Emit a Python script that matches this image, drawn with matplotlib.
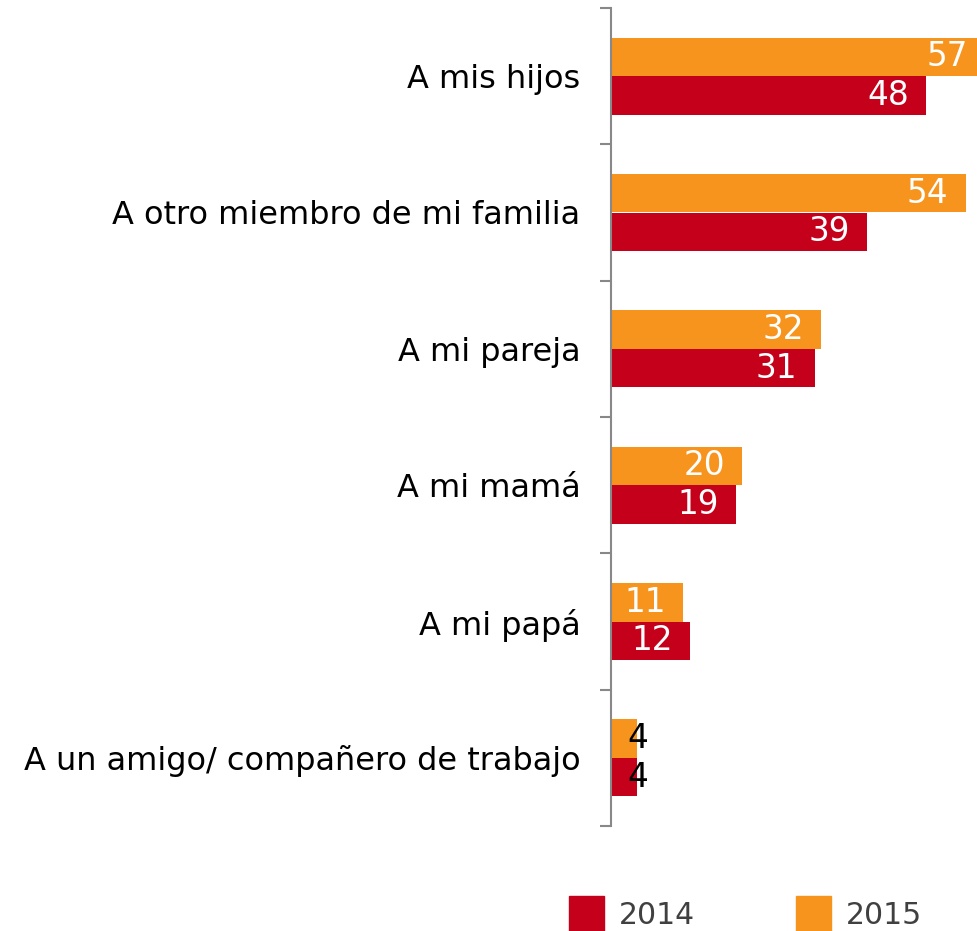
import matplotlib
matplotlib.use("Agg")
import matplotlib.pyplot as plt
from matplotlib.patches import Rectangle
import numpy as np

categories = ["A mis hijos", "A otro miembro de mi familia", "A mi pareja",
              "A mi mamá", "A mi papá", "A un amigo/ compañero de trabajo"]
years = ["2014", "2015"]
values_2014 = [48, 39, 31, 19, 12, 4]
values_2015 = [57, 54, 32, 20, 11, 4]

RED = "#C4001A"
ORANGE = "#F7941D"

plt.rcParams["font.family"] = ["DejaVu Sans"]

fig = plt.figure(figsize=(9.77, 9.31), dpi=100)
ax = fig.add_axes([611 / 977, 105 / 931, 366 / 977, 818 / 931])

y = np.arange(len(categories))
h = 0.282
bars15 = ax.barh(y - h / 2, values_2015, height=h, color=ORANGE, edgecolor="none")
bars14 = ax.barh(y + h / 2, values_2014, height=h, color=RED, edgecolor="none")

ax.set_xlim(0, 55.7)
ax.set_ylim(len(categories) - 0.5, -0.5)

# value labels: white inside the bar, black when the bar is too short
for bars in (bars15, bars14):
    for bar in bars:
        w = bar.get_width()
        yc = bar.get_y() + bar.get_height() / 2
        if w >= 8:
            ax.annotate(f"{w:g}", (w, yc), xytext=(-12.5, 0), textcoords="offset points",
                        ha="right", va="center", color="white", fontsize=23.5,
                        annotation_clip=False)
        else:
            ax.annotate(f"{w:g}", (w, yc), xytext=(-7, 0), textcoords="offset points",
                        ha="left", va="center", color="black", fontsize=23.5)

ax.set_yticks(np.arange(len(categories) + 1) - 0.5, minor=False)
ax.set_yticklabels([])
ax.set_yticks(y, minor=True)
ax.set_yticklabels(categories, minor=True, fontsize=23)
ax.tick_params(axis="y", which="major", length=8, width=1.5, color="#888888")
ax.tick_params(axis="y", which="minor", length=0, pad=22)
ax.set_xticks([])

for s in ("top", "right", "bottom"):
    ax.spines[s].set_visible(False)
ax.spines["left"].set_color("#888888")
ax.spines["left"].set_linewidth(1.5)

# legend
for x0, col, lab in [(569, RED, years[0]), (796, ORANGE, years[1])]:
    fig.add_artist(Rectangle((x0 / 977, 0), 35 / 977, 35 / 931,
                             transform=fig.transFigure, color=col))
    fig.text((x0 + 50) / 977, 16 / 931, lab, fontsize=21.5, color="#404040",
             va="center", ha="left")

fig.savefig("out.png", dpi=100)
